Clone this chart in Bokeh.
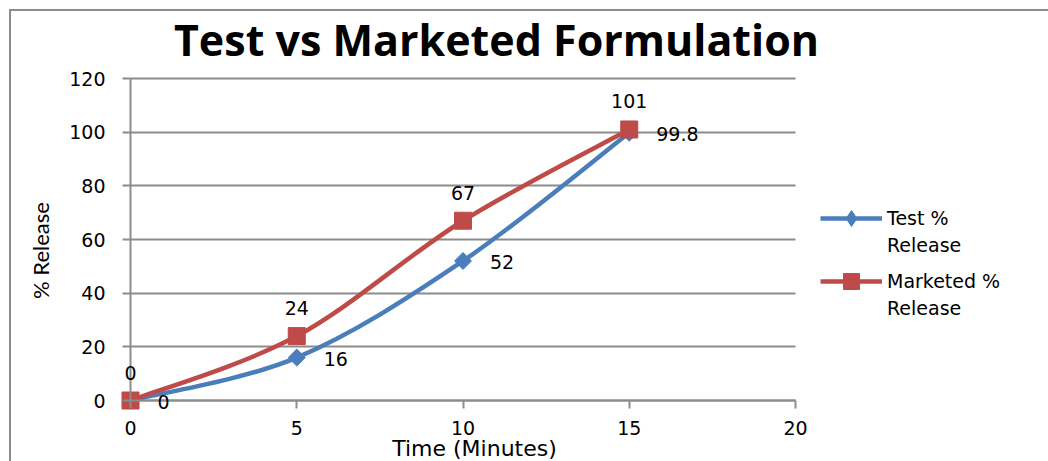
import math
from bokeh.plotting import figure
from bokeh.models import (ColumnDataSource, Legend, LegendItem, FixedTicker, Range1d, Label)
from bokeh.embed import file_html
from bokeh.resources import INLINE

# ---- data ----
time_min = [0, 5, 10, 15]
test_release = [0, 16, 52, 99.8]
marketed_release = [0, 24, 67, 101]
test_labels = ["0", "16", "52", "99.8"]
marketed_labels = ["0", "24", "67", "101"]
y_ticks = [0, 20, 40, 60, 80, 100, 120]
x_ticks = [0, 5, 10, 15, 20]

BLUE = "#4A7EBB"
RED = "#BE4B48"
GRID = "#8C8C8C"

def smooth(xs, ys):
    n = len(xs)
    out = dict(x0=[], y0=[], x1=[], y1=[], cx0=[], cy0=[], cx1=[], cy1=[])
    for i in range(n - 1):
        im = max(i - 1, 0)
        ip2 = min(i + 2, n - 1)
        out["x0"].append(xs[i]); out["y0"].append(ys[i])
        out["x1"].append(xs[i + 1]); out["y1"].append(ys[i + 1])
        out["cx0"].append(xs[i] + (xs[i + 1] - xs[im]) / 6)
        out["cy0"].append(ys[i] + (ys[i + 1] - ys[im]) / 6)
        out["cx1"].append(xs[i + 1] - (xs[ip2] - xs[i]) / 6)
        out["cy1"].append(ys[i + 1] - (ys[ip2] - ys[i]) / 6)
    return ColumnDataSource(out)

W, H = 1048, 461
# plot area: x 0..20 -> px 130..795, y 0..120 -> px 400..78 ; frame covers whole canvas
PX_X = (795 - 130) / 20.0
PX_Y = (400 - 78) / 120.0
xr = Range1d(-130 / PX_X, (W - 130) / PX_X)
yr = Range1d(-(H - 400) / PX_Y, 400 / PX_Y)

def sx(px):  # canvas px -> data x (for placing annotation text only)
    return (px - 130) / PX_X

def sy(py):
    return (400 - py) / PX_Y

p = figure(width=W, height=H, output_backend="svg", toolbar_location=None,
           x_range=xr, y_range=yr,
           min_border_left=0, min_border_right=0, min_border_top=0, min_border_bottom=0)
p.border_fill_color = None
p.background_fill_color = None
p.styles = {"background": "linear-gradient(#8C8C8C,#8C8C8C) 9px 9px / 2px 100% no-repeat, "
                          "linear-gradient(#8C8C8C,#8C8C8C) 9px 9px / 100% 2px no-repeat, white"}
p.outline_line_color = None

# title
p.add_layout(Label(x=sx(496), y=sy(39), text="Test vs Marketed Formulation",
                   text_align="center", text_baseline="middle", text_font="Open Sans",
                   text_font_style="bold", text_font_size="43px", text_color="black"))

# axis titles
p.add_layout(Label(x=sx(474), y=sy(448), text="Time (Minutes)",
                   text_align="center", text_baseline="middle", text_font="DejaVu Sans",
                   text_font_size="22px", text_color="black"))
p.add_layout(Label(x=sx(40), y=sy(250), text="% Release", angle=math.pi / 2,
                   text_align="center", text_baseline="middle", text_font="Lato",
                   text_font_size="22px", text_color="black"))

# axes
for ax in (p.xaxis[0], p.yaxis[0]):
    ax.fixed_location = 0
    ax.axis_line_color = GRID
    ax.axis_line_width = 2
    ax.major_tick_line_color = GRID
    ax.major_tick_line_width = 2
    ax.major_tick_out = 8
    ax.major_tick_in = 0
    ax.minor_tick_line_color = None
    ax.major_label_text_font = "DejaVu Sans"
    ax.major_label_text_font_size = "19px"
    ax.major_label_text_color = "black"

p.xaxis.bounds = (0, 20)
p.yaxis.bounds = (0, 120)
p.xaxis.ticker = FixedTicker(ticks=x_ticks)
p.yaxis.ticker = FixedTicker(ticks=y_ticks)
p.xaxis.major_label_standoff = 12
p.yaxis.major_label_standoff = 17

p.xgrid.grid_line_color = None
p.ygrid.grid_line_color = GRID
p.ygrid.grid_line_width = 1.8
p.ygrid.bounds = (0, 120)
p.ygrid.cross_bounds = (0, 20)

# series
ts = smooth(time_min, test_release)
ms = smooth(time_min, marketed_release)
bt = p.bezier("x0", "y0", "x1", "y1", "cx0", "cy0", "cx1", "cy1", source=ts, line_color=BLUE, line_width=4.5)
bm = p.bezier("x0", "y0", "x1", "y1", "cx0", "cy0", "cx1", "cy1", source=ms, line_color=RED, line_width=4.5)

tsrc = ColumnDataSource(dict(x=time_min, y=test_release))
msrc = ColumnDataSource(dict(x=time_min, y=marketed_release))
leg_t = p.scatter("x", "y", source=tsrc, marker="diamond", size=11,
                  fill_color=BLUE, line_color=BLUE)
st = p.scatter("x", "y", source=tsrc, marker="square", angle=math.pi / 4, size=12,
               fill_color=BLUE, line_color=BLUE)
sm = p.scatter("x", "y", source=msrc, marker="square", size=17, fill_color=RED, line_color=RED)

# data labels
for xv, yv, lab in zip(time_min, test_release, test_labels):
    p.add_layout(Label(x=xv, y=yv, text=lab, x_offset=27, y_offset=-1,
                       text_align="left", text_baseline="middle", text_font="DejaVu Sans",
                       text_font_size="19px", text_color="black"))
for xv, yv, lab in zip(time_min, marketed_release, marketed_labels):
    p.add_layout(Label(x=xv, y=yv, text=lab, x_offset=0, y_offset=28,
                       text_align="center", text_baseline="middle", text_font="DejaVu Sans",
                       text_font_size="19px", text_color="black"))

# legend (one Legend per text line so the two-line labels sit like the reference)
blank = p.line("x", "y", source=ColumnDataSource(dict(x=[], y=[])), line_alpha=0)

def make_legend(label, renderers, bottom_px, gh):
    lg = Legend(items=[LegendItem(label=label, renderers=renderers)],
                location=(820, H - bottom_px), orientation="vertical",
                border_line_color=None, background_fill_alpha=0,
                label_text_font="DejaVu Sans", label_text_font_size="19px",
                label_text_color="black",
                glyph_width=62, glyph_height=gh, spacing=0, padding=0, margin=0,
                label_standoff=5, inactive_fill_alpha=0)
    p.add_layout(lg)

make_legend("Test %", [bt, leg_t], 238, 40)
make_legend("Release", [blank], 258, 26)
make_legend("Marketed %", [bm, sm], 301, 40)
make_legend("Release", [blank], 321, 26)

open("out.html", "w").write(file_html(p, INLINE))
